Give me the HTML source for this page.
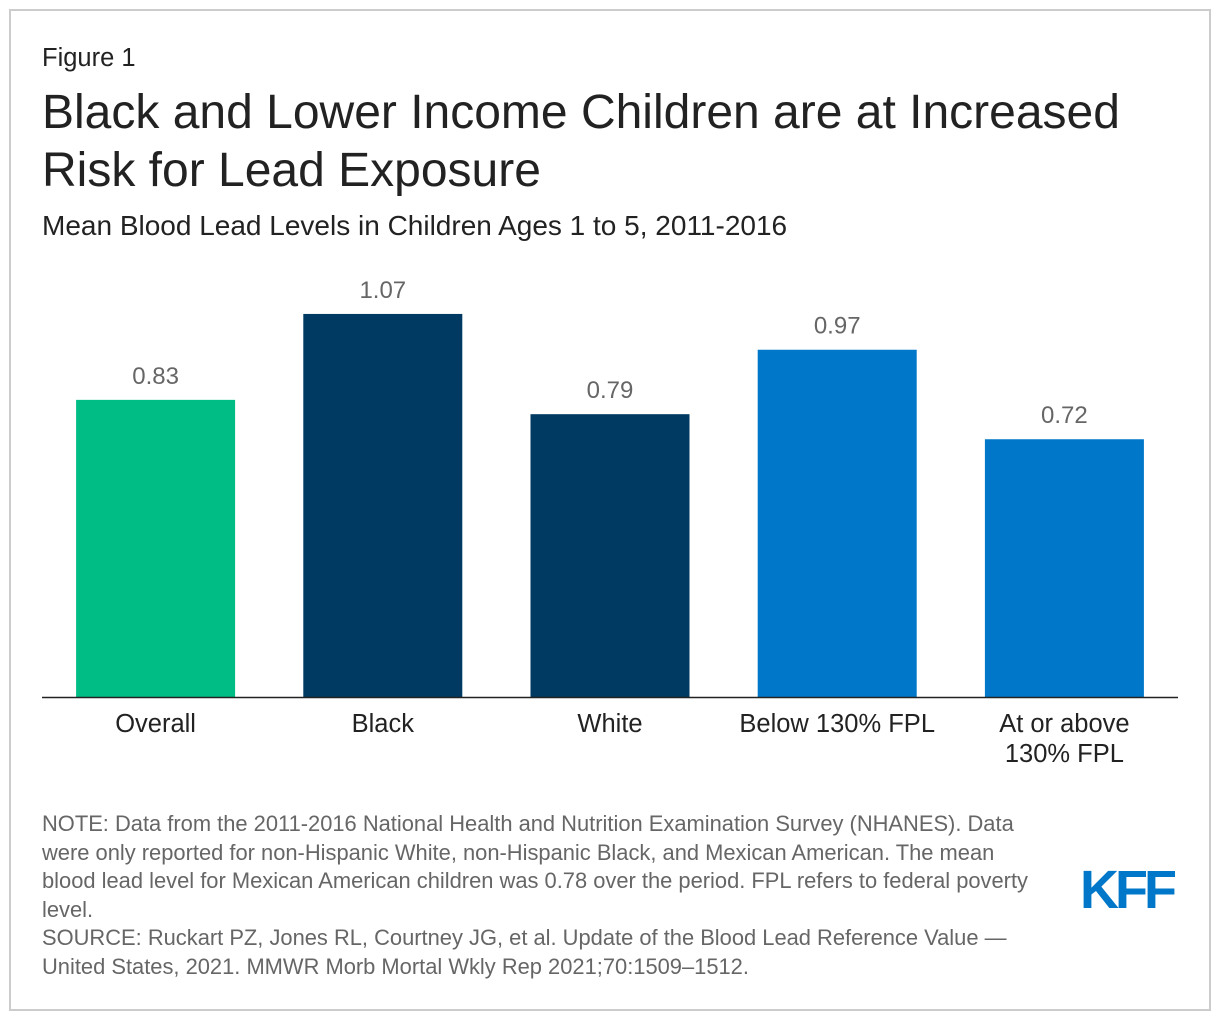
<!DOCTYPE html>
<html><head><meta charset="utf-8"><style>
body{margin:0;width:1220px;height:1020px;background:#fff;font-family:"Liberation Sans",Arial,sans-serif;position:relative;overflow:hidden}
.frame{position:absolute;left:9px;top:9px;width:1198px;height:998px;border:2px solid #ccc}
.t{position:absolute;left:42px;color:#222;white-space:nowrap}
</style></head><body>
<div class="frame"></div>
<div class="t" style="top:44px;font-size:25.5px">Figure 1</div>
<div class="t" style="top:84px;font-size:48px;line-height:58px;color:#222">Black and Lower Income Children are at Increased<br>Risk for Lead Exposure</div>
<div class="t" style="top:210px;font-size:28px">Mean Blood Lead Levels in Children Ages 1 to 5, 2011-2016</div>
<svg id="chart" width="1220" height="800" style="position:absolute;left:0;top:0"></svg>
<div class="t" style="top:810px;font-size:21.9px;line-height:28.5px;color:#666">NOTE: Data from the 2011-2016 National Health and Nutrition Examination Survey (NHANES). Data<br>were only reported for non-Hispanic White, non-Hispanic Black, and Mexican American. The mean<br>blood lead level for Mexican American children was 0.78 over the period. FPL refers to federal poverty<br>level.<br>SOURCE: Ruckart PZ, Jones RL, Courtney JG, et al. Update of the Blood Lead Reference Value —<br>United States, 2021. MMWR Morb Mortal Wkly Rep 2021;70:1509–1512.</div>
<div style="position:absolute;left:1080px;top:860px;font-size:54px;font-weight:bold;color:#0077c8;letter-spacing:-4px;line-height:60px">KFF</div>
<script>
const categories=["Overall","Black","White","Below 130% FPL","At or above|130% FPL"];
const values=[0.83,1.07,0.79,0.97,0.72];
const colors=["#00bd86","#003a63","#003a63","#0077c8","#0077c8"];
const svg=document.getElementById('chart');
const NS="http://www.w3.org/2000/svg";
const base=697,scale=358,x0=42,x1=1178,bw=159;
const band=(x1-x0)/categories.length;
function xC(i){return x0+band*(i+0.5);}
function yV(v){return base-v*scale;}
categories.forEach((c,i)=>{
 const r=document.createElementNS(NS,'rect');
 r.setAttribute('x',xC(i)-bw/2);r.setAttribute('y',yV(values[i]));
 r.setAttribute('width',bw);r.setAttribute('height',base-yV(values[i]));r.setAttribute('fill',colors[i]);
 
 
 svg.appendChild(r);
 const t=document.createElementNS(NS,'text');
 t.setAttribute('x',xC(i));t.setAttribute('y',yV(values[i])-16);t.setAttribute('text-anchor','middle');
 t.setAttribute('font-size','24');t.setAttribute('fill','#666');t.textContent=values[i].toFixed(2);
 
 
 svg.appendChild(t);
 c.split('|').forEach((ln,k)=>{
  const l=document.createElementNS(NS,'text');
  l.setAttribute('x',xC(i));l.setAttribute('y',732+k*30);l.setAttribute('text-anchor','middle');
  l.setAttribute('font-size','25.5');l.setAttribute('fill','#222');l.textContent=ln;
  
  
  svg.appendChild(l);
 });
});
const ax=document.createElementNS(NS,'line');
ax.setAttribute('x1',x0);ax.setAttribute('x2',x1);ax.setAttribute('y1',base+0.5);ax.setAttribute('y2',base+0.5);
ax.setAttribute('stroke','#222');ax.setAttribute('stroke-width','1.5');


svg.appendChild(ax);
</script>
</body></html>
